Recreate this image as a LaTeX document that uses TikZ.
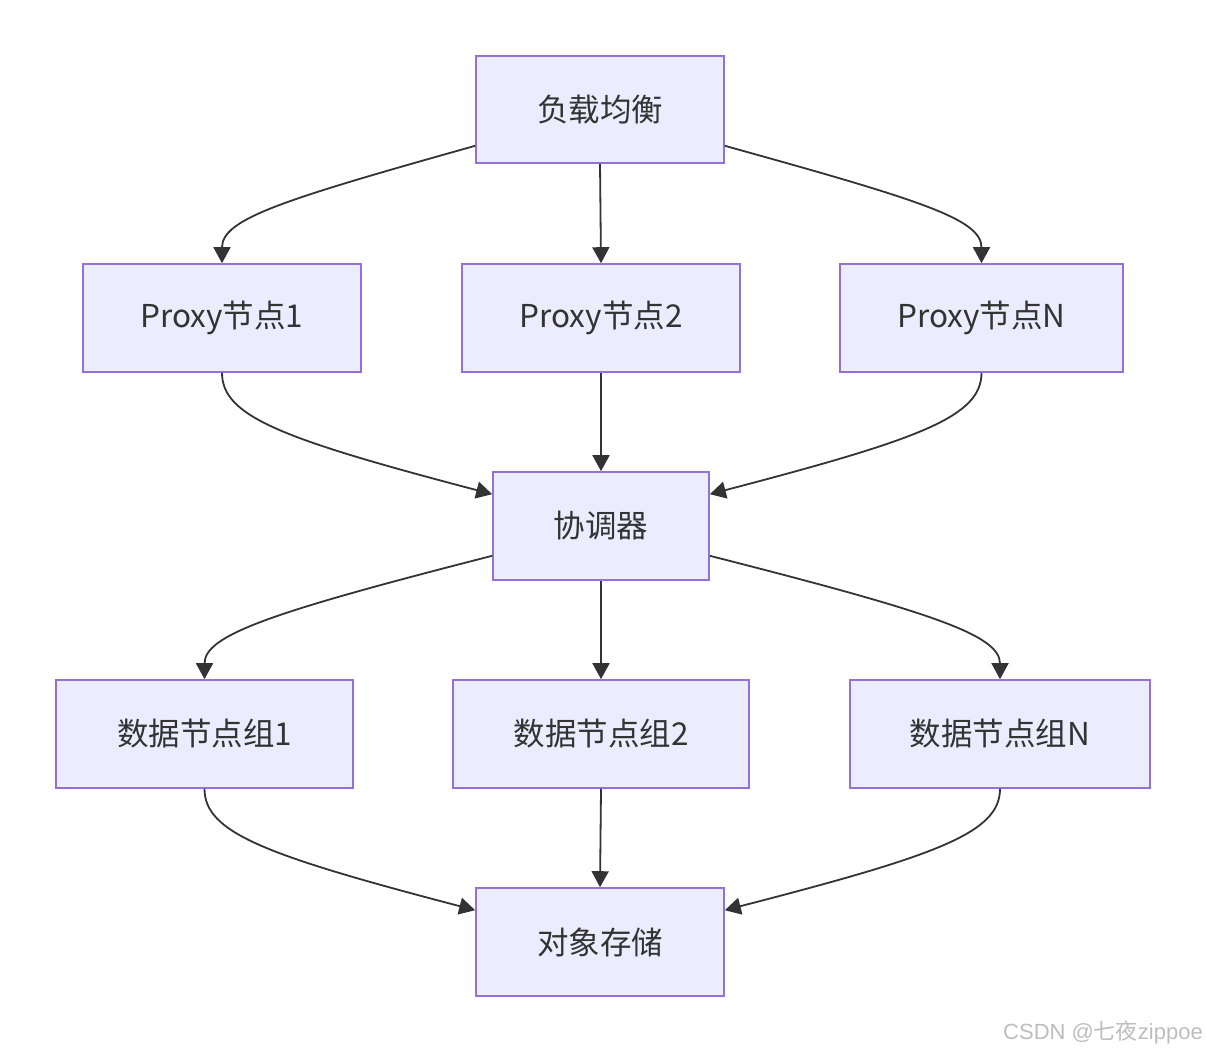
\documentclass[tikz,border=0pt]{standalone}
\usepackage{fontspec}
\setmainfont{Noto Sans CJK SC}
\newfontfamily\wmfont{Liberation Sans}
\newfontfamily\wmcjk{Noto Sans CJK SC}
\usetikzlibrary{arrows.meta}
\definecolor{boxfill}{HTML}{ECECFF}
\definecolor{boxline}{HTML}{9370DB}
\definecolor{edgecol}{HTML}{333333}
\definecolor{wmcol}{HTML}{BDBDBD}
\tikzset{
  box/.style={draw=boxline, fill=boxfill, line width=1.6pt, inner sep=0pt,
    minimum height=108pt, text=edgecol, font=\fontsize{31.5}{38}\selectfont},
  arr/.style={draw=edgecol, line width=1.8pt, -{Triangle[length=16pt,width=17pt]}},
}
\begin{document}
\begin{tikzpicture}[x=1pt,y=-1pt]
\useasboundingbox (0,0) rectangle (1206,1052);
\node[box, minimum width=248pt, minimum height=107pt] (lb) at (600,109.5) {负载均衡};
\node[box, minimum width=278pt] (p1) at (222,318) {Proxy节点1};
\node[box, minimum width=278pt] (p2) at (601,318) {Proxy节点2};
\node[box, minimum width=283pt] (pn) at (981.5,318) {Proxy节点N};
\node[box, minimum width=216pt] (co) at (601,526) {协调器};
\node[box, minimum width=297pt] (d1) at (204.5,734) {数据节点组1};
\node[box, minimum width=296pt] (d2) at (601,734) {数据节点组2};
\node[box, minimum width=300pt] (dn) at (1000,734) {数据节点组N};
\node[box, minimum width=248pt] (os) at (600,942) {对象存储};
% edges
\draw[arr] ([yshift=18pt]lb.south west) .. controls +(-196,55) and +(0,-44) .. (p1.north);
\draw[arr] (lb.south) -- (p2.north);
\draw[arr] ([yshift=18pt]lb.south east) .. controls +(198,55) and +(0,-44) .. (pn.north);
\draw[arr] (p1.south) .. controls +(0,44) and +(-209,-55) .. ([yshift=-23pt]co.north west);
\draw[arr] (p2.south) -- (co.north);
\draw[arr] (pn.south) .. controls +(0,44) and +(210,-55) .. ([yshift=-23pt]co.north east);
\draw[arr] ([yshift=25pt]co.south west) .. controls +(-223,57) and +(0,-44) .. (d1.north);
\draw[arr] (co.south) -- (d2.north);
\draw[arr] ([yshift=25pt]co.south east) .. controls +(224,57) and +(0,-44) .. (dn.north);
\draw[arr] (d1.south) .. controls +(0,44) and +(-210,-55) .. ([yshift=-23pt]os.north west);
\draw[arr] (d2.south) -- (os.north);
\draw[arr] (dn.south) .. controls +(0,44) and +(213,-55) .. ([yshift=-23pt]os.north east);
% watermark
\node[anchor=east, inner sep=0pt, text=wmcol, font=\fontsize{22}{26}\selectfont] (wm) at (1203,1032)
  {{\wmfont CSDN @}{\wmcjk 七夜}{\wmfont zippoe}};
\end{tikzpicture}
\end{document}
